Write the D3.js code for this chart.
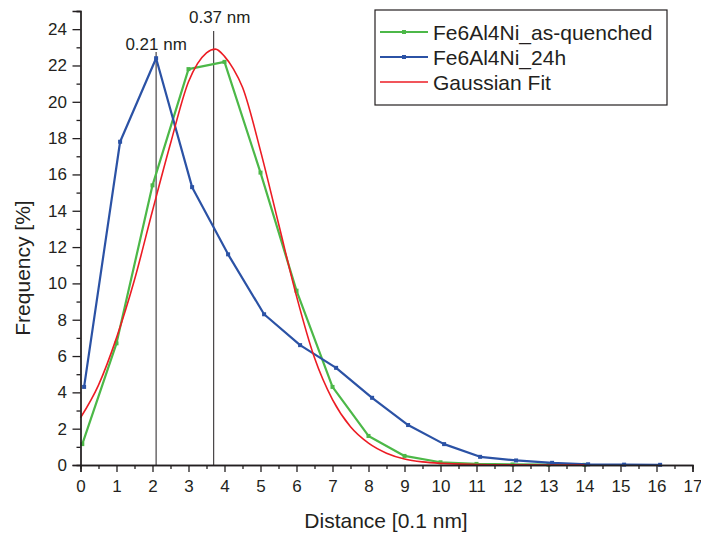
<!DOCTYPE html>
<html>
<head>
<meta charset="utf-8">
<script src="https://cdn.jsdelivr.net/npm/d3@7"></script>
<style>
  body { margin: 0; background: #fff; }
  text { font-family: "Liberation Sans", Arial, sans-serif; fill: #231f20; }
</style>
</head>
<body>
<svg id="chart" width="701" height="533"></svg>
<script>
// data
const quenchedX = [0.05, 1, 2, 3, 4, 5, 6, 7, 8, 9, 10, 11, 12, 13, 14];
const quenchedY = [1.15, 6.7, 15.4, 21.8, 22.2, 16.1, 9.6, 4.3, 1.6, 0.5, 0.15, 0.06, 0.03, 0.02, 0.01];

const agedX = [0.1, 1.1, 2.1, 3.1, 4.1, 5.1, 6.1, 7.1, 8.1, 9.1, 10.1, 11.1, 12.1, 13.1, 14.1, 15.1, 16.1];
const agedY = [4.3, 17.8, 22.4, 15.3, 11.6, 8.3, 6.6, 5.35, 3.7, 2.2, 1.15, 0.45, 0.25, 0.12, 0.04, 0.02, 0.01];

const fitX = [0, 0.5, 1, 1.5, 2, 2.5, 3, 3.25, 3.5, 3.75, 4, 4.25, 4.5, 5, 5.5, 6, 6.5, 7, 7.5, 8, 8.5, 9, 9.5, 10, 11, 12, 13, 14];
const fitY = [2.6, 4.4, 7.0, 10.2, 14.0, 17.7, 21.1, 22.1, 22.7, 22.9, 22.5, 21.8, 20.8, 17.3, 13.3, 9.3, 5.9, 3.6, 2.1, 1.2, 0.65, 0.33, 0.17, 0.09, 0.03, 0.01, 0.0, 0.0];

const peaks = [2.1, 3.7];
const peakLabels = ['0.21 nm', '0.37 nm'];

const seriesNames = ['Fe6Al4Ni_as-quenched', 'Fe6Al4Ni_24h', 'Gaussian Fit'];
const seriesColors = ['#4cb848', '#2b52a5', '#ec1c24'];

const xTicks = d3.range(0, 18);
const yTicks = d3.range(0, 25, 2);

const svg = d3.select('#chart');
const x = d3.scaleLinear().domain([0, 17]).range([80.5, 692.5]);
const y = d3.scaleLinear().domain([0, 25]).range([465, 11]);

// vertical peak markers
const peakG = svg.append('g');
peaks.forEach(function(p, i) {
  const top = i === 0 ? 52 : 31;
  peakG.append('line')
    .attr('x1', x(p)).attr('x2', x(p))
    .attr('y1', top).attr('y2', y(0))
    .attr('stroke', '#231f20').attr('stroke-width', 1);
  peakG.append('text')
    .attr('x', x(p) + (i === 0 ? 0 : 6))
    .attr('y', i === 0 ? 50 : 23)
    .attr('text-anchor', 'middle')
    .attr('font-size', 17)
    .text(peakLabels[i]);
});

const line = d3.line().x(d => x(d[0])).y(d => y(d[1]));

function drawSeries(xs, ys, color, width, markers, curve) {
  const pts = xs.map((v, i) => [v, ys[i]]);
  const g = svg.append('g');
  g.append('path')
    .datum(pts)
    .attr('fill', 'none')
    .attr('stroke', color)
    .attr('stroke-width', width)
    .attr('stroke-linejoin', 'round')
    .attr('d', curve ? line.curve(d3.curveMonotoneX)(pts) : line.curve(d3.curveLinear)(pts));
  if (markers) {
    g.selectAll('rect').data(pts).enter().append('rect')
      .attr('x', d => x(d[0]) - 2)
      .attr('y', d => y(d[1]) - 2)
      .attr('width', 4).attr('height', 4)
      .attr('fill', color);
  }
}

drawSeries(quenchedX, quenchedY, seriesColors[0], 2.2, true, false);
drawSeries(agedX, agedY, seriesColors[1], 2.2, true, false);
drawSeries(fitX, fitY, seriesColors[2], 1.6, false, true);

// axes
const xAxis = d3.axisBottom(x).tickValues(xTicks).tickSize(7).tickFormat(d3.format('d'));
const xMinor = d3.axisBottom(x).tickValues(d3.range(0.5, 17, 1)).tickSize(4).tickFormat('');
const yAxis = d3.axisLeft(y).tickValues(yTicks).tickSize(8).tickFormat(d3.format('d'));
const yMinor = d3.axisLeft(y).tickValues(d3.range(1, 26, 2)).tickSize(4).tickFormat('');

function styleAxis(g) {
  g.select('.domain').attr('stroke', '#231f20').attr('stroke-width', 1.3);
  g.selectAll('line').attr('stroke', '#231f20').attr('stroke-width', 1.3);
  g.selectAll('text').attr('font-size', 17).attr('fill', '#231f20')
    .style('font-family', '"Liberation Sans", Arial, sans-serif');
}

svg.append('g').attr('transform', `translate(0,${y(0)})`).call(xMinor).call(styleAxis);
svg.append('g').attr('transform', `translate(0,${y(0)})`).call(xAxis).call(styleAxis)
  .selectAll('text').attr('dy', '1.0em');
svg.append('g').attr('transform', `translate(${x(0)},0)`).call(yMinor).call(styleAxis);
svg.append('g').attr('transform', `translate(${x(0)},0)`).call(yAxis).call(styleAxis)
  .selectAll('text').attr('dx', '-0.15em');

// axis titles
svg.append('text')
  .attr('x', 386).attr('y', 528)
  .attr('text-anchor', 'middle')
  .attr('font-size', 21)
  .text('Distance [0.1 nm]');
svg.append('text')
  .attr('transform', 'translate(30,268) rotate(-90)')
  .attr('text-anchor', 'middle')
  .attr('font-size', 21)
  .text('Frequency [%]');

// legend
const legend = svg.append('g').attr('transform', 'translate(375,10)');
legend.append('rect')
  .attr('width', 292).attr('height', 95)
  .attr('fill', '#fff').attr('stroke', '#231f20').attr('stroke-width', 1.2);
seriesNames.forEach(function(name, i) {
  const row = legend.append('g').attr('transform', `translate(0,${22 + i * 25})`);
  row.append('line')
    .attr('x1', 5).attr('x2', 53)
    .attr('stroke', seriesColors[i]).attr('stroke-width', i === 2 ? 1.6 : 2.2);
  if (i < 2) {
    row.append('rect').attr('x', 27).attr('y', -2).attr('width', 4).attr('height', 4)
      .attr('fill', seriesColors[i]);
  }
  row.append('text')
    .attr('x', 58).attr('y', 7.5)
    .attr('font-size', 21)
    .text(name);
});
</script>
</body>
</html>
